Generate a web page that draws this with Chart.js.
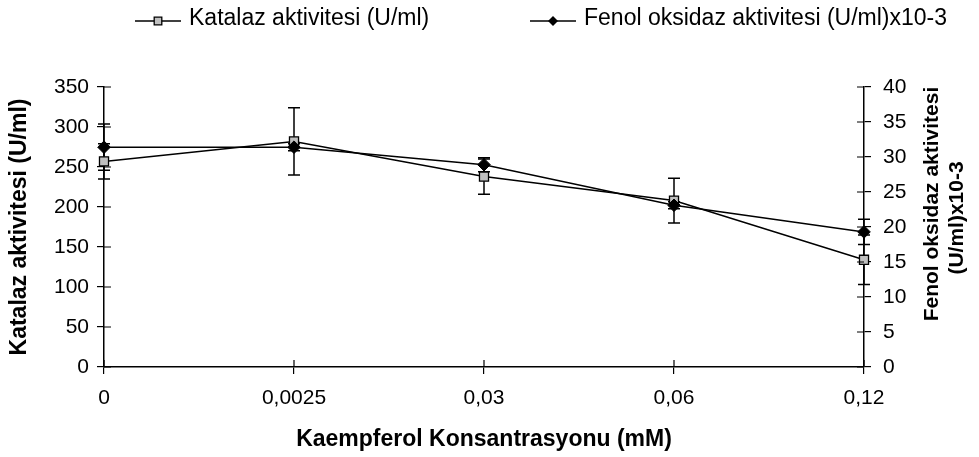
<!DOCTYPE html>
<html>
<head>
<meta charset="utf-8">
<script src="https://cdn.jsdelivr.net/npm/chart.js@4/dist/chart.umd.min.js"></script>
<style>
  html, body { margin: 0; padding: 0; background: #fff; }
  #wrap { width: 979px; height: 457px; position: relative; }
</style>
</head>
<body>
<div id="wrap"><canvas id="c" width="979" height="457"></canvas></div>
<script>
// Kaempferol concentrations (mM)
const categories = ['0', '0,0025', '0,03', '0,06', '0,12'];

// Catalase activity (U/ml) with ± error
const katalaz = [257, 282, 238, 208, 134];
const katalazErr = [22, 42, 22, 28, 31];

// Phenol oxidase activity (U/ml)x10-3 with ± error
const fenol = [31.4, 31.4, 28.9, 23.1, 19.3];
const fenolErr = [3.3, 0.5, 1.0, 0.5, 1.8];

// Axis ranges
const leftMax = 350, leftStep = 50;
const rightMax = 40, rightStep = 5;

const FONT = "'Liberation Sans', Arial, sans-serif";
const BLACK = '#000';

const seriesNames = ['Katalaz aktivitesi (U/ml)', 'Fenol oksidaz aktivitesi (U/ml)x10-3'];
const rightTitle = ['Fenol oksidaz aktivitesi', '(U/ml)x10-3'];

// Vertical error bars with whiskers, drawn beneath the markers
const errorBars = {
  id: 'errorBars',
  beforeDatasetsDraw(chart) {
    const ctx = chart.ctx;
    ctx.save();
    ctx.strokeStyle = BLACK;
    ctx.lineWidth = 1.5;
    chart.data.datasets.forEach((ds, i) => {
      const meta = chart.getDatasetMeta(i);
      const ys = chart.scales[ds.yAxisID];
      ds.data.forEach((v, j) => {
        const e = ds.errors[j];
        const x = meta.data[j].x;
        const yt = ys.getPixelForValue(v + e);
        const yb = ys.getPixelForValue(v - e);
        ctx.beginPath();
        ctx.moveTo(x, yt); ctx.lineTo(x, yb);
        ctx.moveTo(x - 6, yt); ctx.lineTo(x + 6, yt);
        ctx.moveTo(x - 6, yb); ctx.lineTo(x + 6, yb);
        ctx.stroke();
      });
    });
    ctx.restore();
  }
};

// Tick marks that cross the axis line (inner half; outer half is the grid tick)
const crossTicks = {
  id: 'crossTicks',
  afterDatasetsDraw(chart) {
    const ctx = chart.ctx;
    const a = chart.chartArea;
    ctx.save();
    ctx.strokeStyle = BLACK;
    ctx.lineWidth = 1.2;
    ctx.beginPath();
    const sx = chart.scales.x;
    sx.ticks.forEach((t, i) => {
      const p = sx.getPixelForTick(i);
      ctx.moveTo(p, a.bottom); ctx.lineTo(p, a.bottom - 7);
    });
    const sl = chart.scales.y;
    sl.ticks.forEach((t, i) => {
      const p = sl.getPixelForTick(i);
      ctx.moveTo(a.left, p); ctx.lineTo(a.left + 7, p);
    });
    const sr = chart.scales.y1;
    sr.ticks.forEach((t, i) => {
      const p = sr.getPixelForTick(i);
      ctx.moveTo(a.right, p); ctx.lineTo(a.right - 7, p);
    });
    ctx.stroke();
    ctx.restore();
  }
};

function marker(ctx, style, x, y, r) {
  ctx.beginPath();
  if (style === 'rect') {
    ctx.rect(x - r, y - r, 2 * r, 2 * r);
    ctx.fillStyle = '#c0c0c0';
    ctx.fill();
    ctx.lineWidth = 1.3;
    ctx.strokeStyle = BLACK;
    ctx.stroke();
  } else {
    ctx.moveTo(x, y - r); ctx.lineTo(x + r, y); ctx.lineTo(x, y + r); ctx.lineTo(x - r, y);
    ctx.closePath();
    ctx.fillStyle = BLACK;
    ctx.fill();
  }
}

// Legend row above the plot and the right-hand axis title
const decorations = {
  id: 'decorations',
  afterDraw(chart) {
    const ctx = chart.ctx;
    ctx.save();
    const items = [
      { x: 135, style: 'rect', r: 3.8, text: seriesNames[0] },
      { x: 530, style: 'rectRot', r: 5, text: seriesNames[1] }
    ];
    items.forEach(it => {
      ctx.strokeStyle = BLACK;
      ctx.lineWidth = 1.5;
      ctx.beginPath();
      ctx.moveTo(it.x, 21); ctx.lineTo(it.x + 46, 21);
      ctx.stroke();
      marker(ctx, it.style, it.x + 23, 21, it.r);
      ctx.fillStyle = BLACK;
      ctx.font = '23px ' + FONT;
      ctx.textAlign = 'left';
      ctx.textBaseline = 'middle';
      ctx.fillText(it.text, it.x + 54, 19);
    });

    ctx.font = 'bold 21px ' + FONT;
    ctx.textAlign = 'center';
    ctx.textBaseline = 'middle';
    ctx.fillStyle = BLACK;
    [[932, 204, rightTitle[0]], [957, 218, rightTitle[1]]].forEach(([x, y, t]) => {
      ctx.save();
      ctx.translate(x, y);
      ctx.rotate(-Math.PI / 2);
      ctx.fillText(t, 0, 0);
      ctx.restore();
    });
    ctx.restore();
  }
};

const axisGrid = { display: true, drawOnChartArea: false, drawTicks: true, tickLength: 7, color: BLACK, lineWidth: 1.2 };
const axisBorder = { display: true, color: BLACK, width: 1.5 };

new Chart(document.getElementById('c'), {
  type: 'line',
  data: {
    labels: categories,
    datasets: [
      {
        label: seriesNames[1],
        data: fenol,
        errors: fenolErr,
        yAxisID: 'y1',
        borderColor: BLACK,
        borderWidth: 1.5,
        pointStyle: 'rectRot',
        pointRadius: 6.3,
        pointBackgroundColor: BLACK,
        pointBorderColor: BLACK,
        pointBorderWidth: 1,
        tension: 0,
        fill: false
      },
      {
        label: seriesNames[0],
        data: katalaz,
        errors: katalazErr,
        yAxisID: 'y',
        borderColor: BLACK,
        borderWidth: 1.5,
        pointStyle: 'rect',
        pointRadius: 6.4,
        pointBackgroundColor: '#c0c0c0',
        pointBorderColor: BLACK,
        pointBorderWidth: 1.3,
        tension: 0,
        fill: false
      }
    ]
  },
  options: {
    responsive: false,
    animation: false,
    devicePixelRatio: 1,
    layout: { padding: { top: 87, left: 0, right: 0, bottom: 0 } },
    plugins: {
      legend: { display: false },
      tooltip: { enabled: false }
    },
    scales: {
      x: {
        type: 'category',
        offset: false,
        grid: axisGrid,
        border: axisBorder,
        ticks: { color: BLACK, font: { family: FONT, size: 21 }, padding: 12, maxRotation: 0, autoSkip: false },
        title: {
          display: true,
          text: 'Kaempferol Konsantrasyonu (mM)',
          color: BLACK,
          font: { family: FONT, size: 23, weight: 'bold' },
          padding: { top: 0, bottom: 4 }
        },
        afterFit(s) { s.height = 90; }
      },
      y: {
        type: 'linear',
        position: 'left',
        min: 0,
        max: leftMax,
        grid: axisGrid,
        border: axisBorder,
        ticks: { stepSize: leftStep, color: BLACK, font: { family: FONT, size: 21 }, padding: 8 },
        title: {
          display: true,
          text: seriesNames[0],
          color: BLACK,
          font: { family: FONT, size: 23, weight: 'bold' },
          padding: { top: 6, bottom: 0 }
        },
        afterFit(s) { s.width = 104; }
      },
      y1: {
        type: 'linear',
        position: 'right',
        min: 0,
        max: rightMax,
        grid: axisGrid,
        border: axisBorder,
        ticks: { stepSize: rightStep, color: BLACK, font: { family: FONT, size: 21 }, padding: 12 },
        afterFit(s) { s.width = 115; }
      }
    }
  },
  plugins: [errorBars, crossTicks, decorations]
});
</script>
</body>
</html>
